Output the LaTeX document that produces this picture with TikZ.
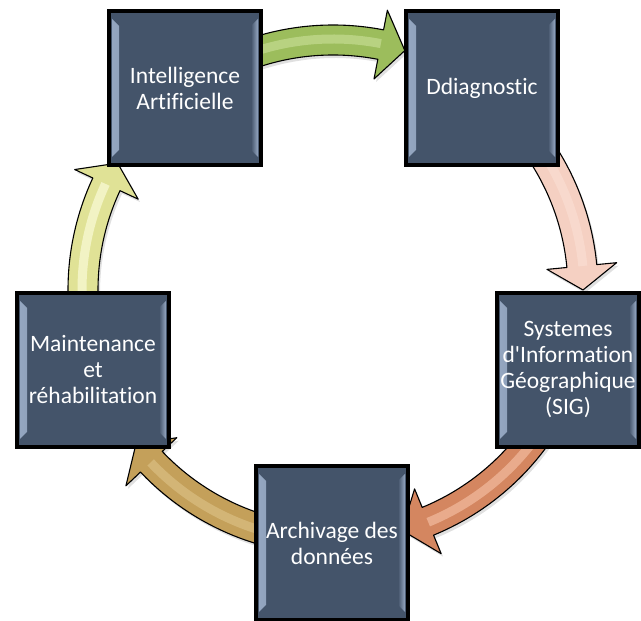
\documentclass[tikz,border=0pt]{standalone}
\usepackage{fontspec}
\newfontfamily\boxfont[Ligatures=NoCommon]{Carlito}
\usetikzlibrary{positioning}
\definecolor{slatebox}{RGB}{68,84,106}
\definecolor{slatebevel}{RGB}{150,168,194}
\definecolor{leafgreen}{RGB}{156,189,92}
\definecolor{leaflight}{RGB}{196,220,146}
\definecolor{blush}{RGB}{245,208,194}
\definecolor{blushlight}{RGB}{250,222,210}
\definecolor{copper}{RGB}{212,134,96}
\definecolor{copperlight}{RGB}{242,188,160}
\definecolor{tanbrown}{RGB}{196,160,90}
\definecolor{tanlight}{RGB}{218,190,130}
\definecolor{straw}{RGB}{224,226,150}
\definecolor{strawlight}{RGB}{250,251,216}

\tikzset{
  cyclebox/.style={draw=black, line width=3.6pt, fill=slatebox,
    minimum width=152pt, minimum height=154pt, inner sep=0pt,
    text=white, align=center, font=\boxfont\fontsize{23.5}{26}\selectfont,
    path picture={
      % raised strips along the left and right edges
      \fill[left color=slatebevel, right color=slatebox]
        ([xshift=3pt,yshift=-8pt]path picture bounding box.north west) --
        ([xshift=10pt,yshift=-15pt]path picture bounding box.north west) --
        ([xshift=10pt,yshift=15pt]path picture bounding box.south west) --
        ([xshift=3pt,yshift=8pt]path picture bounding box.south west) -- cycle;
      \fill[left color=slatebox, right color=slatebevel]
        ([xshift=-3pt,yshift=-8pt]path picture bounding box.north east) --
        ([xshift=-10pt,yshift=-15pt]path picture bounding box.north east) --
        ([xshift=-10pt,yshift=15pt]path picture bounding box.south east) --
        ([xshift=-3pt,yshift=8pt]path picture bounding box.south east) -- cycle;
    }},
  arrowline/.style={draw=black, line width=1.1pt, line join=round},
}

\begin{document}
\begin{tikzpicture}[x=1pt, y=1pt]
  \useasboundingbox (0,0) rectangle (641,621);
  \clip (0,0) rectangle (641,621);
  \coordinate (hub) at (333,331);

  % curved block arrows around the hub (tail angle / head base / tip)
  \foreach \tailang/\baseang/\tipang/\body/\glow in
      {110/79/73.3/leafgreen/leaflight, 34/5.5/0/blush/blushlight,
       -35/-67.7/-74/copper/copperlight, -105/-136.6/-142/tanbrown/tanlight,
       185/155/149.5/straw/strawlight}{
    \fill[black, opacity=0.12, shift={(335,328)}]
      (\tailang:265) arc[start angle=\tailang, end angle=\baseang, radius=265pt]
      -- (\baseang:285) -- (\tipang:250) -- (\baseang:215) -- (\baseang:235)
      arc[start angle=\baseang, end angle=\tailang, radius=235pt] -- cycle;
    \draw[arrowline, fill=\body, shift={(hub)}]
      (\tailang:265) arc[start angle=\tailang, end angle=\baseang, radius=265pt]
      -- (\baseang:285) -- (\tipang:250) -- (\baseang:215) -- (\baseang:235)
      arc[start angle=\baseang, end angle=\tailang, radius=235pt] -- cycle;
    \draw[\glow, line width=9pt, opacity=0.7, shift={(hub)}]
      (\tailang:251) arc[start angle=\tailang, end angle=\baseang, radius=251pt];
  }

  % the five steps
  \node[cyclebox] (ia) at (185,533) {Intelligence\\Artificielle};
  \node[cyclebox] (diag) at (482,533) {Ddiagnostic};
  \node[cyclebox, minimum width=142pt] (sig) at (568,251)
    {Systemes\\d\textquotesingle Information\\Géographique\\(SIG)};
  \node[cyclebox] (maint) at (93,251) {Maintenance\\et\\réhabilitation};
  \node[cyclebox] (arch) at (332,78) {Archivage des\\données};
\end{tikzpicture}
\end{document}
